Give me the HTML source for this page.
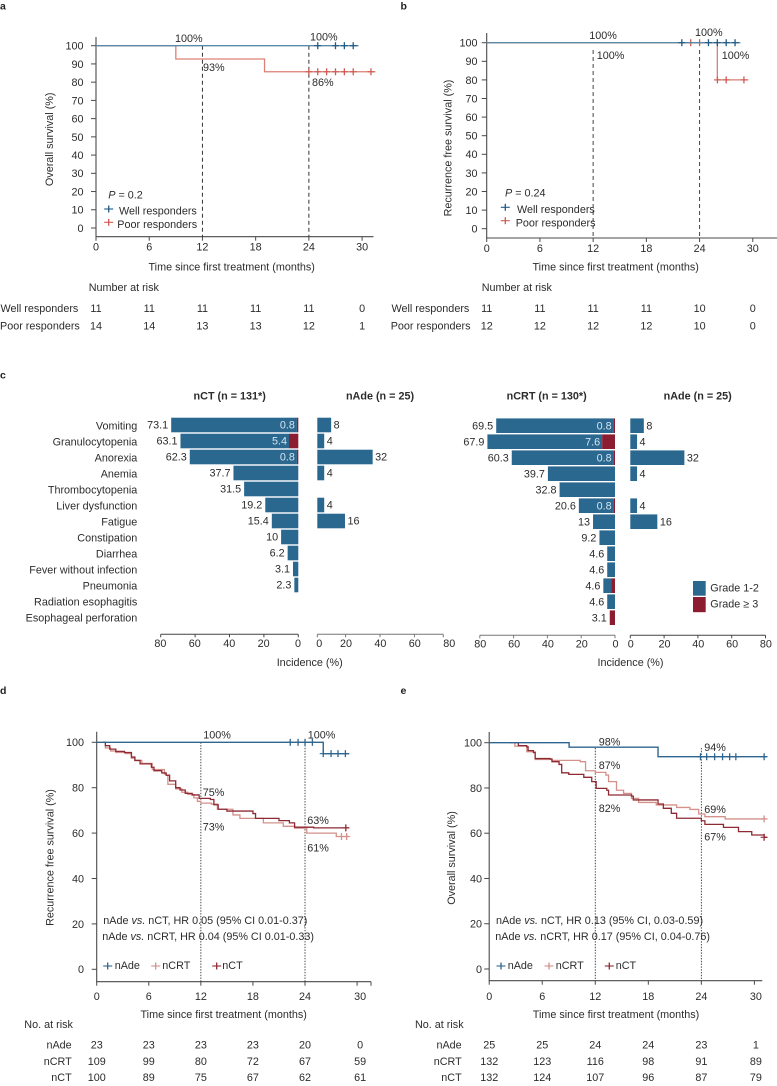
<!DOCTYPE html>
<html lang="en">
<head>
<meta charset="utf-8">
<title>Survival and adverse events</title>
<style>
html,body{margin:0;padding:0;background:#fff;}
#figure{display:block;filter:blur(.3px);}
text{font-family:"Liberation Sans",Arial,sans-serif;font-size:10.8px;fill:#2c2c2c;}
.b{font-weight:bold;}
.l{font-size:10.5px;font-weight:bold;fill:#222;}
.m{text-anchor:middle;}
.e{text-anchor:end;}
</style>
</head>
<body>
<svg id="figure" xmlns="http://www.w3.org/2000/svg" width="777" height="1086" viewBox="0 0 777 1086">
<rect x="0" y="0" width="777" height="1086" fill="#fff"/>

<!-- panel letters -->
<text class="l" x="0" y="9.5">a</text>
<text class="l" x="400.5" y="9.5">b</text>
<text class="l" x="0" y="378.5">c</text>
<text class="l" x="0" y="694">d</text>
<text class="l" x="400.5" y="694">e</text>

<!-- panel a text -->
<g>
<text x="175" y="42">100%</text>
<text x="310" y="40.5">100%</text>
<text x="203" y="71">93%</text>
<text x="312" y="86">86%</text>
<text class="m" x="231.7" y="270.5">Time since first treatment (months)</text>
<text class="m" transform="translate(53,139.3) rotate(-90)">Overall survival (%)</text>
<text x="108.3" y="198.5"><tspan font-style="italic">P</tspan> = 0.2</text>
<text x="119" y="214.5">Well responders</text>
<text x="117.3" y="228">Poor responders</text>
<text x="88.7" y="291">Number at risk</text>
<text x="0.5" y="312">Well responders</text>
<text x="0" y="329.5">Poor responders</text>
</g>

<!-- panel b text -->
<g>
<text x="589.3" y="39">100%</text>
<text x="596.7" y="59">100%</text>
<text x="695" y="36">100%</text>
<text x="721.7" y="59">100%</text>
<text class="m" x="615.7" y="270.5">Time since first treatment (months)</text>
<text class="m" transform="translate(451.5,148) rotate(-90)">Recurrence free survival (%)</text>
<text x="505" y="196.5"><tspan font-style="italic">P</tspan> = 0.24</text>
<text x="517" y="213">Well responders</text>
<text x="515.7" y="226.5">Poor responders</text>
<text x="481.7" y="291">Number at risk</text>
<text x="391.5" y="312">Well responders</text>
<text x="390.7" y="329.5">Poor responders</text>
</g>

<!-- panel c text -->
<g>
<text class="b m" x="229.7" y="399.7">nCT (n = 131*)</text>
<text class="b m" x="380" y="399.7">nAde (n = 25)</text>
<text class="b m" x="546.7" y="399.7">nCRT (n = 130*)</text>
<text class="b m" x="697.7" y="399.7">nAde (n = 25)</text>
<text class="m" x="309.7" y="666">Incidence (%)</text>
<text class="m" x="630.5" y="666">Incidence (%)</text>
<rect x="693" y="581" width="12.7" height="14.7" fill="#2b6890"/>
<rect x="693" y="597" width="12.7" height="15.2" fill="#8c1c2f"/>
<text x="710.3" y="591.5">Grade 1-2</text>
<text x="710.3" y="607.5">Grade ≥ 3</text>
</g>

<!-- panel d text -->
<g>
<text x="203.3" y="738.5">100%</text>
<text x="307.7" y="738.5">100%</text>
<text x="202.7" y="795.8">75%</text>
<text x="202.7" y="830.5">73%</text>
<text x="307.3" y="823.8">63%</text>
<text x="307.3" y="851.5">61%</text>
<text x="103.3" y="923.8">nAde <tspan font-style="italic">vs.</tspan> nCT, HR 0.05 (95% CI 0.01-0.37)</text>
<text x="102.3" y="939.8">nAde <tspan font-style="italic">vs.</tspan> nCRT, HR 0.04 (95% CI 0.01-0.33)</text>
<text x="114.7" y="969">nAde</text>
<text x="162.3" y="969">nCRT</text>
<text x="222.3" y="969">nCT</text>
<text class="m" x="223.7" y="1017.8">Time since first treatment (months)</text>
<text class="m" transform="translate(53.5,857.5) rotate(-90)">Recurrence free survival (%)</text>
<text x="24.3" y="1028">No. at risk</text>
<text class="e" x="71.7" y="1048.5">nAde</text>
<text class="e" x="71.7" y="1064.8">nCRT</text>
<text class="e" x="71.7" y="1080.8">nCT</text>
</g>

<!-- panel e text -->
<g>
<text x="598.7" y="745.5">98%</text>
<text x="598.7" y="768.8">87%</text>
<text x="598.7" y="812">82%</text>
<text x="704.3" y="751">94%</text>
<text x="704.3" y="812.8">69%</text>
<text x="704.3" y="840.5">67%</text>
<text x="496" y="923.8">nAde <tspan font-style="italic">vs.</tspan> nCT, HR 0.13 (95% CI, 0.03-0.59)</text>
<text x="495.3" y="939.8">nAde <tspan font-style="italic">vs.</tspan> nCRT, HR 0.17 (95% CI, 0.04-0.76)</text>
<text x="507.7" y="969">nAde</text>
<text x="555.7" y="969">nCRT</text>
<text x="615.7" y="969">nCT</text>
<text class="m" x="616" y="1017.8">Time since first treatment (months)</text>
<text class="m" transform="translate(455,858) rotate(-90)">Overall survival (%)</text>
<text x="415" y="1028">No. at risk</text>
<text class="e" x="461.7" y="1048.5">nAde</text>
<text class="e" x="461.7" y="1064.8">nCRT</text>
<text class="e" x="461.7" y="1080.8">nCT</text>
</g>

<g id="marks"></g>
</svg>

<script>
/* ---------- shared tick labels ---------- */
const monthTicks = [0, 6, 12, 18, 24, 30];
const percentTicks10 = [0, 10, 20, 30, 40, 50, 60, 70, 80, 90, 100];
const percentTicks20 = [0, 20, 40, 60, 80, 100];
const incidenceTicks = [0, 20, 40, 60, 80];
const landmarkMonths = [12, 24];

/* ---------- panel a ---------- */
const aWellMonths = [0, 29.6];
const aWellSurvival = [100, 100];
const aWellCensored = [25, 27, 28, 29];
const aPoorMonths = [0, 9, 19, 31.5];
const aPoorSurvival = [100, 92.7, 85.7, 85.7];
const aPoorCensored = [24, 25, 26, 27, 28, 29, 31];
const aRiskWell = [11, 11, 11, 11, 11, 0];
const aRiskPoor = [14, 14, 13, 13, 12, 1];

/* ---------- panel b ---------- */
const bWellMonths = [0, 28.6];
const bWellSurvival = [100, 100];
const bWellCensored = [22, 25, 26, 27, 28];
const bPoorMonths = [0, 26, 29.5];
const bPoorSurvival = [100, 80, 80];
const bPoorCensored = [23, 24, 26.01, 27, 29];
const bRiskWell = [11, 11, 11, 11, 10, 0];
const bRiskPoor = [12, 12, 12, 12, 10, 0];

/* ---------- panel c ---------- */
const adverseEvents = ["Vomiting", "Granulocytopenia", "Anorexia", "Anemia", "Thrombocytopenia", "Liver dysfunction", "Fatigue", "Constipation", "Diarrhea", "Fever without infection", "Pneumonia", "Radiation esophagitis", "Esophageal perforation"];
const nctGradeLow = [73.1, 63.1, 62.3, 37.7, 31.5, 19.2, 15.4, 10, 6.2, 3.1, 2.3, 0, 0];
const nctGradeHigh = [0.8, 5.4, 0.8, 0, 0, 0, 0, 0, 0, 0, 0, 0, 0];
const ncrtGradeLow = [69.5, 67.9, 60.3, 39.7, 32.8, 20.6, 13, 9.2, 4.6, 4.6, 4.6, 4.6, 0];
const ncrtGradeHigh = [0.8, 7.6, 0.8, 0, 0, 0.8, 0, 0, 0, 0, 2.3, 0, 3.1];
const nadeGradeLow = [8, 4, 32, 4, 0, 4, 16, 0, 0, 0, 0, 0, 0];

/* ---------- panel d ---------- */
const dNadeMonths = [0, 26.1, 29.1];
const dNadeSurvival = [100, 95, 95];
const dNadeCensored = [22.3, 23.2, 24, 24.85, 26.1, 27, 27.8, 28.65];
const dNcrtMonths = [0.7, 1, 1.6, 2.2, 3.3, 4, 4.4, 5.2, 6.4, 7.8, 8, 8.2, 9.1, 9.8, 10.5, 11.2, 11.6, 12, 13.2, 13.9, 15.7, 16.5, 19.2, 21.5, 22.8, 24.2, 27.6, 29];
const dNcrtSurvival = [100, 97.5, 96.2, 95.5, 95, 93, 92, 90.7, 88, 86, 85.5, 81.5, 79.5, 78, 77, 75.5, 74, 73.2, 72.8, 70.5, 68, 66.5, 64.5, 63, 62.2, 60, 58.5, 58.5];
const dNcrtCensored = [28.2, 28.8];
const dNctMonths = [0.7, 1, 1.5, 2.2, 3.2, 4, 4.4, 5, 6.3, 6.6, 7.5, 8, 8.4, 9.1, 9.6, 10.2, 11, 11.8, 13.1, 13.5, 14, 15, 18, 18.3, 21, 22.2, 22.8, 25, 29.1];
const dNctSurvival = [100, 98.5, 97, 96, 95.5, 93.5, 92, 90.5, 89, 87.5, 86.5, 85.5, 83, 80, 79, 77.5, 76.8, 75.3, 74.8, 72.5, 70.5, 69.7, 68.6, 66.5, 65.5, 64.5, 62.6, 62.3, 62.3];
const dNctCensored = [28.7];
const dRiskNade = [23, 23, 23, 23, 20, 0];
const dRiskNcrt = [109, 99, 80, 72, 67, 59];
const dRiskNct = [100, 89, 75, 67, 62, 61];

/* ---------- panel e ---------- */
const eNadeMonths = [0, 9.04, 19.1, 31.4];
const eNadeSurvival = [100, 98, 93.8, 93.8];
const eNadeCensored = [23.9, 24.6, 25.5, 26.4, 27.2, 27.9, 31.1];
const eNcrtMonths = [2.3, 2.9, 4.25, 5.2, 7.1, 10.3, 10.9, 12, 13.2, 13.5, 14.4, 15.2, 16.1, 16.9, 18.9, 21.2, 22.7, 23.7, 24.4, 26.7, 31.4];
const eNcrtSurvival = [100, 98.5, 96, 92.6, 92.2, 91.6, 87.6, 86.9, 85.7, 82.8, 79, 77.6, 75.4, 73.6, 72.5, 71.4, 70.5, 68.5, 67.3, 66.3, 66.3];
const eNcrtCensored = [31.1];
const eNctMonths = [2.9, 3.3, 4.25, 4.4, 5, 5.2, 6.9, 7.1, 7.9, 8.2, 9, 10.7, 11.6, 12.1, 13.3, 13.5, 16.1, 16.3, 19.1, 19.7, 20.6, 21.2, 24, 24.4, 26.5, 28.2, 29.7, 31.1, 31.4];
const eNctSurvival = [100, 98.7, 98.2, 96.5, 95.6, 93, 92.8, 91.6, 90.4, 86.7, 86, 84.7, 82.8, 79.8, 79, 76.9, 76.4, 74.7, 72.9, 71, 68.8, 66.6, 65.5, 63.9, 62.6, 60.7, 59.2, 58.2, 58.2];
const eNctCensored = [31.1];
const eRiskNade = [25, 25, 24, 24, 23, 1];
const eRiskNcrt = [132, 123, 116, 98, 91, 89];
const eRiskNct = [132, 124, 107, 96, 87, 79];

/* ---------- colours ---------- */
const BLUE = "#2f6690", WELL_LINE = "#5a8aa9", WELL_MARK = "#1f5a85", RED = "#dc7f76", RED_MARK = "#cf5a50";
const NCRT = "#d4918c", NCT = "#8e2a33", AXIS = "#4a4a4a";
const BAR_LOW = "#2b6890", BAR_HIGH = "#8c1c2f";

/* ---------- helpers ---------- */
const NS = "http://www.w3.org/2000/svg";
const root = document.getElementById("marks");

function add(tag, parent, name, props, content) {
  const el = document.createElementNS(NS, tag);
  
  
  for (const k in props) el.setAttribute(k, props[k]);
  if (content !== undefined) el.textContent = content;
  parent.appendChild(el);
  return el;
}
function group(name) {
  return add("g", root, name, {});
}
function seg(parent, name, x1, y1, x2, y2, color, width, dash) {
  const p = {x1: x1, y1: y1, x2: x2, y2: y2, stroke: color, "stroke-width": width};
  if (dash) p["stroke-dasharray"] = dash;
  return add("line", parent, name, p);
}
function survivalAt(t, months, survival) {
  let s = survival[0];
  for (let i = 0; i < months.length; i++) if (months[i] <= t) s = survival[i];
  return s;
}
function plus(parent, name, cx, cy, color, w, h) {
  seg(parent, name + "-h", cx - w / 2, cy, cx + w / 2, cy, color, 1.1);
  seg(parent, name + "-v", cx, cy - h / 2, cx, cy + h / 2, color, 1.3);
}
function curve(parent, name, ax, months, survival, censored, color, width, markColor) {
  let d = "M" + ax.x(months[0]).toFixed(2) + " " + ax.y(survival[0]).toFixed(2);
  for (let i = 1; i < months.length; i++) {
    d += "H" + ax.x(months[i]).toFixed(2) + "V" + ax.y(survival[i]).toFixed(2);
  }
  add("path", parent, name + "-line", {d: d, fill: "none", stroke: color, "stroke-width": width});
  censored.forEach(function (t) {
    plus(parent, name + "-censor", ax.x(t), ax.y(survivalAt(t, months, survival)), markColor || color, 7, 7);
  });
}
function kmAxes(prefix, ax, o) {
  const g = group(prefix + "-axes");
  seg(g, prefix + "-y-axis", ax.x(0), o.top, ax.x(0), o.bottom, AXIS, 1.1);
  seg(g, prefix + "-x-axis", ax.x(0) - 0.5, o.bottom, o.right, o.bottom, AXIS, 1.1);
  o.yTicks.forEach(function (v) {
    seg(g, prefix + "-y-tick", ax.x(0) - 5, ax.y(v), ax.x(0), ax.y(v), AXIS, 1);
    add("text", g, prefix + "-y-tick-label", {class: "e", x: o.yLabelX, y: ax.y(v) + 3.9}, v);
  });
  monthTicks.forEach(function (t) {
    seg(g, prefix + "-x-tick", ax.x(t), o.bottom, ax.x(t), o.bottom + 4, AXIS, 1);
    add("text", g, prefix + "-x-tick-label", {class: "m", x: ax.x(t) + (t === 30 ? o.lastDx : 0), y: o.tickBase}, t);
  });
  if (o.endTick) seg(g, prefix + "-x-axis-end", o.right, o.bottom, o.right, o.bottom + 4, AXIS, 1);
  landmarkMonths.forEach(function (t) {
    seg(g, prefix + "-landmark-" + t, ax.x(t), o.refTop, ax.x(t), o.bottom, o.refColor, o.refWidth, o.refDash);
  });
}
function riskRow(prefix, ax, values, base, lastDx) {
  const g = group(prefix);
  values.forEach(function (v, i) {
    const t = monthTicks[i];
    add("text", g, prefix + "-count", {class: "m", x: ax.x(t) + (t === 30 ? lastDx : 0), y: base}, v);
  });
}

/* ---------- km panels ---------- */
const axisA = {x: function (t) { return 96 + 8.87 * t; }, y: function (s) { return 228 - 1.823 * s; }};
const axisB = {x: function (t) { return 486.7 + 8.87 * t; }, y: function (s) { return 228.7 - 1.86 * s; }};
const axisD = {x: function (t) { return 96.7 + 8.68 * t; }, y: function (s) { return 969.3 - 2.27 * s; }};
const axisE = {x: function (t) { return 489.2 + 8.84 * t; }, y: function (s) { return 969 - 2.263 * s; }};

kmAxes("a", axisA, {top: 37, bottom: 236.7, right: 373.5, yTicks: percentTicks10, yLabelX: 83.5, tickBase: 250.5, lastDx: 0, refTop: 45.7, refColor: "#333", refWidth: 1, refDash: "4 3"});
kmAxes("b", axisB, {top: 33, bottom: 238, right: 777, yTicks: percentTicks10, yLabelX: 477.5, tickBase: 252, lastDx: 0, refTop: 50, refColor: "#444", refWidth: 1, refDash: "4 3"});
kmAxes("d", axisD, {top: 731.7, bottom: 981.7, right: 371, endTick: true, yTicks: percentTicks20, yLabelX: 84, tickBase: 999.8, lastDx: 3, refTop: 742.3, refColor: "#333", refWidth: 0.9, refDash: "1.4 1.4"});
kmAxes("e", axisE, {top: 732, bottom: 980.7, right: 762.3, yTicks: percentTicks20, yLabelX: 482, tickBase: 999.8, lastDx: 1.5, refTop: 748, refColor: "#333", refWidth: 0.9, refDash: "1.4 1.4"});

const curvesA = group("a-curves");
curve(curvesA, "a-poor", axisA, aPoorMonths, aPoorSurvival, aPoorCensored, RED, 1.3, RED_MARK);
curve(curvesA, "a-well", axisA, aWellMonths, aWellSurvival, aWellCensored, WELL_LINE, 1.4, WELL_MARK);

const curvesB = group("b-curves");
curve(curvesB, "b-poor", axisB, bPoorMonths, bPoorSurvival, bPoorCensored, RED, 1.3, RED_MARK);
curve(curvesB, "b-well", axisB, bWellMonths, bWellSurvival, bWellCensored, WELL_LINE, 1.4, WELL_MARK);

const curvesD = group("d-curves");
curve(curvesD, "d-ncrt", axisD, dNcrtMonths, dNcrtSurvival, dNcrtCensored, NCRT, 1.3);
curve(curvesD, "d-nct", axisD, dNctMonths, dNctSurvival, dNctCensored, NCT, 1.3);
curve(curvesD, "d-nade", axisD, dNadeMonths, dNadeSurvival, dNadeCensored, BLUE, 1.4);

const curvesE = group("e-curves");
curve(curvesE, "e-ncrt", axisE, eNcrtMonths, eNcrtSurvival, eNcrtCensored, NCRT, 1.3);
curve(curvesE, "e-nct", axisE, eNctMonths, eNctSurvival, eNctCensored, NCT, 1.3);
curve(curvesE, "e-nade", axisE, eNadeMonths, eNadeSurvival, eNadeCensored, BLUE, 1.4);

/* legend glyphs */
const legendGlyphs = group("km-legend-glyphs");
plus(legendGlyphs, "a-legend-well-glyph", 108.7, 209, WELL_MARK, 9, 7);
plus(legendGlyphs, "a-legend-poor-glyph", 108.7, 222.3, RED_MARK, 9, 7);
plus(legendGlyphs, "b-legend-well-glyph", 505.3, 207.3, WELL_MARK, 9, 7);
plus(legendGlyphs, "b-legend-poor-glyph", 505.3, 220.7, RED_MARK, 9, 7);
plus(legendGlyphs, "d-legend-nade-glyph", 107.7, 966, BLUE, 9, 7);
plus(legendGlyphs, "d-legend-ncrt-glyph", 155.7, 966, NCRT, 9, 7);
plus(legendGlyphs, "d-legend-nct-glyph", 216.7, 966, NCT, 9, 7);
plus(legendGlyphs, "e-legend-nade-glyph", 501, 966, BLUE, 9, 7);
plus(legendGlyphs, "e-legend-ncrt-glyph", 549, 966, NCRT, 9, 7);
plus(legendGlyphs, "e-legend-nct-glyph", 609.3, 966, NCT, 9, 7);

/* risk tables */
riskRow("a-risk-well", axisA, aRiskWell, 312, 0);
riskRow("a-risk-poor", axisA, aRiskPoor, 329.5, 0);
riskRow("b-risk-well", axisB, bRiskWell, 312, 0);
riskRow("b-risk-poor", axisB, bRiskPoor, 329.5, 0);
riskRow("d-risk-nade", axisD, dRiskNade, 1048.5, 3);
riskRow("d-risk-ncrt", axisD, dRiskNcrt, 1064.8, 3);
riskRow("d-risk-nct", axisD, dRiskNct, 1080.8, 3);
riskRow("e-risk-nade", axisE, eRiskNade, 1048.5, 1.5);
riskRow("e-risk-ncrt", axisE, eRiskNcrt, 1064.8, 1.5);
riskRow("e-risk-nct", axisE, eRiskNct, 1080.8, 1.5);

/* ---------- panel c ---------- */
const ROW_H = 16, BAR_H = 14.6;
function rowY(i, first) { return first + ROW_H * i; }

function leftBars(prefix, scale, low, high, first) {
  const g = group(prefix + "-bars");
  low.forEach(function (lo, i) {
    const hi = high[i];
    const cy = rowY(i, first);
    if (lo + hi === 0) return;
    if (lo > 0) {
      add("rect", g, prefix + "-bar-low", {x: scale(lo + hi), y: cy - BAR_H / 2, width: scale(hi) - scale(lo + hi), height: BAR_H, fill: BAR_LOW});
    }
    if (hi > 0) {
      add("rect", g, prefix + "-bar-high", {x: scale(hi), y: cy - BAR_H / 2, width: scale(0) - scale(hi), height: BAR_H, fill: BAR_HIGH});
    }
    add("text", g, prefix + "-value", {class: "e", x: scale(lo + hi) - 3, y: cy + 3.7}, lo > 0 ? lo : hi);
    if (hi > 0 && lo >= 15) {
      const inner = add("text", g, prefix + "-high-value", {class: "e", x: scale(hi) - 2, y: cy + 3.7}, hi);
      inner.style.fill = "#d5e4ee";
    }
  });
}
function rightBars(prefix, scale, values, first) {
  const g = group(prefix + "-bars");
  values.forEach(function (v, i) {
    if (v === 0) return;
    const cy = rowY(i, first);
    add("rect", g, prefix + "-bar", {x: scale(0), y: cy - BAR_H / 2, width: scale(v) - scale(0), height: BAR_H, fill: BAR_LOW});
    add("text", g, prefix + "-value", {x: scale(v) + 2.5, y: cy + 3.7}, v);
  });
}
function barAxis(prefix, tickX, labelX, y, base, color) {
  const g = group(prefix + "-axis");
  seg(g, prefix + "-axis-line", tickX(incidenceTicks[0]), y, tickX(incidenceTicks[incidenceTicks.length - 1]), y, color, 1);
  incidenceTicks.forEach(function (v) {
    seg(g, prefix + "-tick", tickX(v), y, tickX(v), y + 3, color, 1);
    add("text", g, prefix + "-tick-label", {class: "m", x: labelX(v), y: base}, v);
  });
}

const scaleNct = function (v) { return 298.3 - 1.72 * v; };
const scaleNadeLeft = function (v) { return 317.3 + 1.73 * v; };
const scaleNcrt = function (v) { return 615 - 1.69 * v; };
const scaleNadeRight = function (v) { return 630.3 + 1.69 * v; };

const eventLabels = group("c-event-labels");
adverseEvents.forEach(function (name, i) {
  add("text", eventLabels, "c-event-label", {class: "e", x: 137.3, y: rowY(i, 425.7) + 3.8}, name);
});

leftBars("c-nct", scaleNct, nctGradeLow, nctGradeHigh, 425);
rightBars("c-nade-left", scaleNadeLeft, nadeGradeLow, 425);
leftBars("c-ncrt", scaleNcrt, ncrtGradeLow, ncrtGradeHigh, 425.7);
rightBars("c-nade-right", scaleNadeRight, nadeGradeLow, 425.7);

barAxis("c-nct", scaleNct, function (v) { return scaleNct(v) - 0.3; }, 634.3, 647, "#444");
barAxis("c-nade-left",
  function (v) { return v === 0 ? 317.3 : v === 80 ? 443.3 : 311.2 + 1.72 * v; },
  function (v) { return v === 0 ? 319.3 : 311.6 + 1.72 * v; },
  634.3, 647, "#777");
barAxis("c-ncrt", scaleNcrt, function (v) { return scaleNcrt(v) + 0.5; }, 635.3, 647.5, "#777");
barAxis("c-nade-right", scaleNadeRight, function (v) { return scaleNadeRight(v) + 0.4; }, 635.3, 647.5, "#444");
</script>
</body>
</html>
